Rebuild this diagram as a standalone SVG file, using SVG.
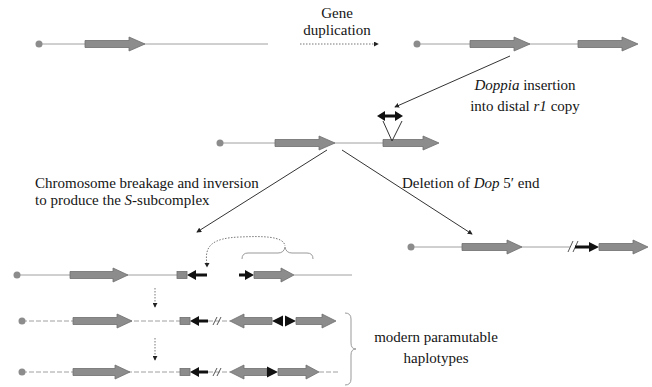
<svg xmlns="http://www.w3.org/2000/svg" width="652" height="387" viewBox="0 0 652 387">
<style>
.t{font-family:'Liberation Serif','DejaVu Serif',serif;font-size:15px;fill:#151515}
.i{font-style:italic}
.ln{stroke:#a0a0a0;stroke-width:1;fill:none}
.dl{stroke:#a0a0a0;stroke-width:1;fill:none;stroke-dasharray:5 2}
.gene{fill:#8c8c8c;stroke:#6e6e6e;stroke-width:0.8}
.dot{fill:#8c8c8c}
.blk{fill:#111;stroke:none}
.lead{stroke:#333;stroke-width:1;fill:none}
.dotted{stroke:#777;stroke-width:1;fill:none;stroke-dasharray:1.5 1.5}
.brace{stroke:#999;stroke-width:1;fill:none}
</style>
<defs>
<marker id="ah" viewBox="0 0 6 6" refX="5" refY="3" markerWidth="5" markerHeight="5" orient="auto" markerUnits="userSpaceOnUse">
<path d="M0,0 L6,3 L0,6 Z" fill="#222"/>
</marker>
</defs>

<!-- Row 1 left -->
<g id="row1-left">
<line class="ln" x1="39" y1="44" x2="268" y2="44"/>
<circle class="dot" cx="39" cy="44" r="3.5"/>
<path class="gene" d="M85,40.5 H129 V37 L145,44 L129,51 V47.5 H85 Z"/>
</g>

<!-- Row 1 right -->
<g id="row1-right">
<line class="ln" x1="417" y1="44" x2="622" y2="44"/>
<circle class="dot" cx="417" cy="44" r="3.5"/>
<path class="gene" d="M470,40.5 H514 V37 L530,44 L514,51 V47.5 H470 Z"/>
<path class="gene" d="M578,40.5 H622 V37 L638,44 L622,51 V47.5 H578 Z"/>
</g>

<!-- Row 2 -->
<g id="row2">
<line class="ln" x1="220" y1="143" x2="384" y2="143"/>
<circle class="dot" cx="220" cy="143" r="3.5"/>
<path class="gene" d="M275,139.5 H319 V136 L335,143 L319,150 V146.5 H275 Z"/>
<path class="gene" d="M383,139.5 H423 V136 L439,143 L423,150 V146.5 H383 Z"/>
<path d="M383,121 L392,141 L402,121" stroke="#333" stroke-width="1" fill="none"/>
<path class="blk" d="M377,116 L385,111 V114.5 H395 V111 L403,116 L395,121 V117.5 H385 V121 Z"/>
</g>

<!-- Row 3 left -->
<g id="row3-left">
<line class="ln" x1="17" y1="275" x2="178" y2="275"/>
<circle class="dot" cx="17" cy="275" r="3.5"/>
<path class="gene" d="M70,271.5 H113 V268 L128,275 L113,282 V278.5 H70 Z"/>
<rect class="gene" x="177" y="271.5" width="10" height="7"/>
<path class="blk" d="M187,275 L196,270 V273.5 H207 V276.5 H196 V280 Z"/>
<path class="blk" d="M239,273.5 H245 V270 L254,275 L245,280 V276.5 H239 Z"/>
<path class="gene" d="M254,271.5 H281 V268 L294,275 L281,282 V278.5 H254 Z"/>
<line class="ln" x1="294" y1="275" x2="352" y2="275"/>
<path class="brace" d="M242,259 Q242,253 248,253 H278 Q284,253 285,247 Q286,253 292,253 H307 Q313,253 313,259"/>
<path class="dotted" d="M207,264 C204,246 212,238 240,237 C262,236 284,236 285,246"/>
<path d="M204.5,263 L209.5,263 L207,267.5 Z" fill="#222"/>
</g>

<!-- Row 3 right -->
<g id="row3-right">
<line class="ln" x1="411" y1="247" x2="570" y2="247"/>
<circle class="dot" cx="411" cy="247" r="3.5"/>
<path class="gene" d="M462,243.5 H507 V240 L522,247 L507,254 V250.5 H462 Z"/>
<path d="M568,252 L573,241 M573,252 L578,241" stroke="#555" stroke-width="1" fill="none"/>
<path class="blk" d="M575,245.5 H589 V242 L599,247 L589,252 V248.5 H575 Z"/>
<path class="gene" d="M599,243.5 H633 V240 L648,247 L633,254 V250.5 H599 Z"/>
</g>

<!-- Row 4 -->
<g id="row4">
<line class="dl" x1="22" y1="321" x2="180" y2="321"/>
<circle class="dot" cx="22" cy="321" r="3.5"/>
<path class="gene" d="M73,317.5 H117 V314 L132,321 L117,328 V324.5 H73 Z"/>
<rect class="gene" x="180" y="317.5" width="10" height="7"/>
<path class="blk" d="M190,321 L199,316 V319.5 H208 V322.5 H199 V326 Z"/>
<line class="dl" x1="208" y1="321" x2="230" y2="321"/>
<path d="M213,325 L217,317 M217,325 L221,317" stroke="#555" stroke-width="1" fill="none"/>
<path class="gene" d="M230,321 L244,314 V317.5 H272 V324.5 H244 V328 Z"/>
<path class="blk" d="M272,321 L283,315.5 V326.5 Z"/>
<path class="blk" d="M285,315.5 L296,321 L285,326.5 Z"/>
<path class="gene" d="M296,317.5 H322 V314 L336,321 L322,328 V324.5 H296 Z"/>
</g>

<!-- Row 5 -->
<g id="row5">
<line class="dl" x1="22" y1="372" x2="180" y2="372"/>
<circle class="dot" cx="22" cy="372" r="3.5"/>
<path class="gene" d="M73,368.5 H115 V365 L130,372 L115,379 V375.5 H73 Z"/>
<rect class="gene" x="180" y="368.5" width="10" height="7"/>
<path class="blk" d="M190,372 L199,367 V370.5 H208 V373.5 H199 V377 Z"/>
<line class="dl" x1="208" y1="372" x2="230" y2="372"/>
<path d="M213,376 L217,368 M217,376 L221,368" stroke="#555" stroke-width="1" fill="none"/>
<path class="gene" d="M230,372 L244,365 V368.5 H267 V375.5 H244 V379 Z"/>
<path class="blk" d="M267,366.5 L278,372 L267,377.5 Z"/>
<path class="gene" d="M278,368.5 H306 V365 L319,372 L306,379 V375.5 H278 Z"/>
<line class="dl" x1="319" y1="372" x2="338" y2="372"/>
</g>

<!-- Brace for modern haplotypes -->
<g id="brace-modern">
<path class="brace" d="M345,313 Q351,313 351,319 V343 Q351,349 356,349 Q351,349 351,355 V379 Q351,385 345,385"/>
</g>

<!-- Connectors -->
<g id="connectors">
<line class="dotted" x1="300" y1="44" x2="378" y2="44" marker-end="url(#ah)"/>
<line class="lead" x1="510" y1="56" x2="395" y2="107" marker-end="url(#ah)"/>
<line class="lead" x1="327" y1="150" x2="197" y2="232" marker-end="url(#ah)"/>
<line class="lead" x1="342" y1="150" x2="472" y2="234" marker-end="url(#ah)"/>
<line class="dotted" x1="155" y1="288" x2="155" y2="307" marker-end="url(#ah)"/>
<line class="dotted" x1="155" y1="338" x2="155" y2="360" marker-end="url(#ah)"/>
</g>

<!-- Labels -->
<g id="labels" font-family="Liberation Serif, serif">
<text class="t" x="337" y="18" text-anchor="middle">Gene</text>
<text class="t" x="337" y="35" text-anchor="middle">duplication</text>
<text class="t" x="525" y="90" text-anchor="middle"><tspan class="i">Doppia</tspan> insertion</text>
<text class="t" x="525" y="111" text-anchor="middle">into distal <tspan class="i">r1</tspan> copy</text>
<text class="t" x="35" y="188">Chromosome breakage and inversion</text>
<text class="t" x="35" y="205">to produce the <tspan class="i">S</tspan>-subcomplex</text>
<text class="t" x="402" y="188">Deletion of <tspan class="i">Dop</tspan> 5′ end</text>
<text class="t" x="436" y="342" text-anchor="middle">modern paramutable</text>
<text class="t" x="436" y="363" text-anchor="middle">haplotypes</text>
</g>
</svg>
